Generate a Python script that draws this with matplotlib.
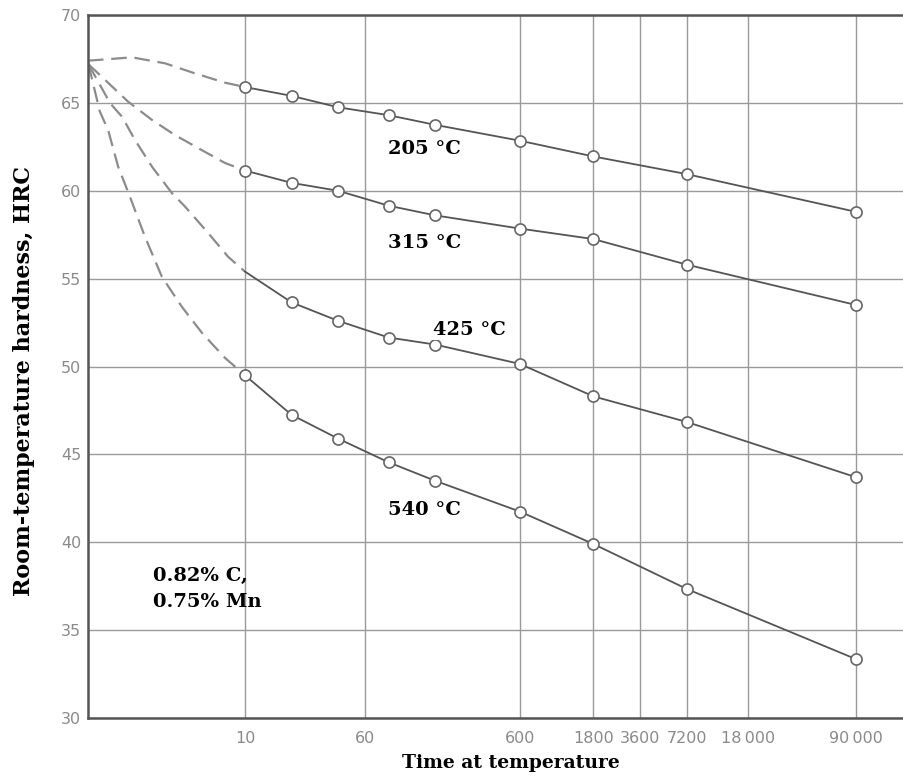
import matplotlib.pyplot as plt
import numpy as np

# time at temperature, s
times = [10, 20, 40, 85, 170, 600, 1800, 7200, 90000]
tick_times = [10, 60, 600, 1800, 3600, 7200, 18000, 90000]
tick_labels = ["10", "60", "600", "1800", "3600", "7200", "18\u2009000", "90\u2009000"]

# measured hardness, HRC
hrc_205 = [65.9, 65.4, 64.75, 64.3, 63.75, 62.85, 61.95, 60.95, 58.8]
hrc_315 = [61.15, 60.45, 60.0, 59.15, 58.6, 57.85, 57.25, 55.8, 53.5]
hrc_425 = [55.4, 53.65, 52.6, 51.65, 51.25, 50.15, 48.3, 46.85, 43.7]
hrc_540 = [49.5, 47.25, 45.9, 44.55, 43.5, 41.75, 39.9, 37.35, 33.35]

# early (dashed) part of each curve
early_t_205 = [0.963, 1.86, 3.04, 4.74, 7.42, 10]
early_205 = [67.4, 67.59, 67.25, 66.68, 66.15, 65.9]
early_t_315 = [0.97, 1.75, 2.5, 3.52, 4.97, 7.42, 10]
early_315 = [67.2, 65.07, 64.03, 63.17, 62.43, 61.58, 61.15]
early_t_425 = [0.97, 1.34, 1.6, 1.94, 2.5, 3.37, 4.09, 5.77, 7.76, 10]
early_425 = [67.2, 64.98, 64.21, 62.89, 61.37, 59.86, 59.1, 57.6, 56.25, 55.4]
early_t_540 = [0.97, 1.15, 1.3, 1.51, 1.8, 2.25, 2.9, 3.9, 5.27, 7.42, 10]
early_540 = [67.2, 64.5, 63.46, 61.37, 59.66, 57.39, 55.1, 53.4, 51.91, 50.49, 49.5]

serif = "DejaVu Serif"
sans = ["DejaVu Sans"]

fig = plt.figure(figsize=(9.04, 7.77), dpi=100)
ax = fig.add_axes([0.0973, 0.0759, 0.9027, 0.9048])

ax.set_xscale("log")
ax.set_xlim(0.963, 184000)
ax.set_ylim(30, 70)

ax.set_xticks(tick_times)
ax.set_xticklabels(tick_labels)
ax.xaxis.set_minor_locator(plt.NullLocator())
ax.set_yticks(np.arange(30, 71, 5))
ax.tick_params(length=0, labelsize=11.5, labelcolor="#8a8a8a")
ax.tick_params(axis="x", pad=9)
ax.tick_params(axis="y", pad=5)
for lab in ax.get_xticklabels() + ax.get_yticklabels():
    lab.set_fontfamily(sans)

ax.grid(True, color="#9a9a9a", linewidth=1.0)
ax.set_axisbelow(True)
for side in ["left", "bottom", "top"]:
    ax.spines[side].set_color("#555555")
    ax.spines[side].set_linewidth(1.8)
ax.spines["right"].set_visible(False)

dash = dict(color="#8c8c8c", linewidth=1.6, dashes=(7, 3.5))
line = dict(color="#555555", linewidth=1.3, zorder=3)
mark = dict(linestyle="none", marker="o", markersize=8, markerfacecolor="white",
            markeredgecolor="#666666", markeredgewidth=1.2, zorder=4)

ax.plot(early_t_205, early_205, **dash)
ax.plot(early_t_315, early_315, **dash)
ax.plot(early_t_425, early_425, **dash)
ax.plot(early_t_540, early_540, **dash)

ax.plot(times, hrc_205, **line)
ax.plot(times, hrc_315, **line)
ax.plot(times, hrc_425, **line)
ax.plot(times, hrc_540, **line)

ax.plot(times, hrc_205, **mark)
ax.plot(times, hrc_315, **mark)
ax.plot(times[1:], hrc_425[1:], **mark)
ax.plot(times, hrc_540, **mark)

lab_kw = dict(fontsize=14, fontweight="bold", family=serif, va="center", ha="left",
              bbox=dict(facecolor="white", edgecolor="none", pad=1), zorder=5)
ax.text(84, 62.38, "205 °C", **lab_kw)
ax.text(84, 57.03, "315 °C", **lab_kw)
ax.text(165, 52.08, "425 °C", **lab_kw)
ax.text(84, 41.84, "540 °C", **lab_kw)
ax.text(2.55, 37.35, "0.82% C,\n0.75% Mn", fontsize=14, fontweight="bold",
        family=serif, va="center", ha="left", linespacing=1.6, zorder=5)

fig.text(511 / 904, 1 - 763 / 777, "Time at temperature", fontsize=13.5,
         fontweight="bold", family=serif, ha="center", va="center")
fig.text(24 / 904, 1 - 381 / 777, "Room-temperature hardness, HRC", fontsize=16,
         fontweight="bold", family=serif, ha="center", va="center", rotation=90)

fig.savefig("out.png", dpi=100)
